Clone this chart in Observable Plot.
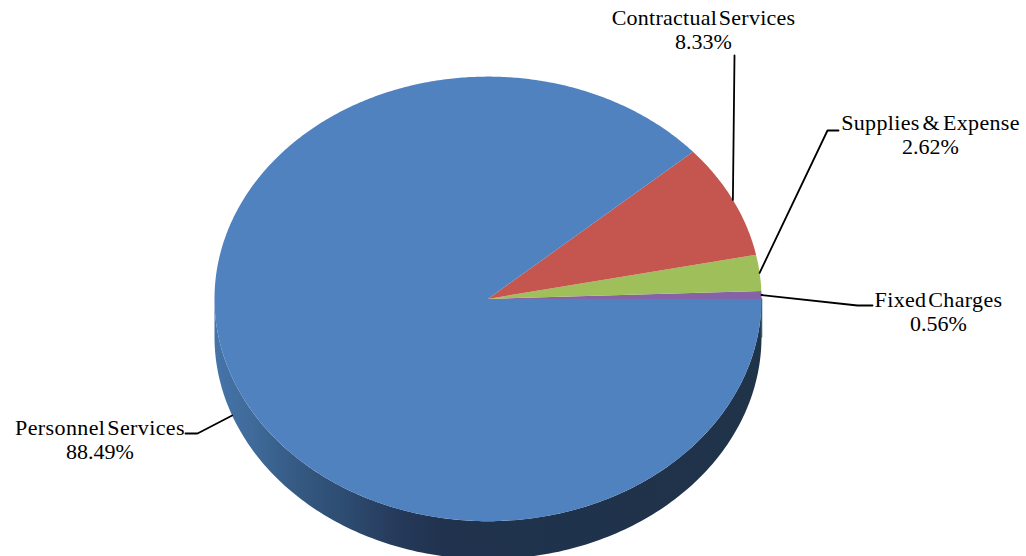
<!DOCTYPE html>
<html>
<head>
<meta charset="utf-8">
<style>
  html, body { margin: 0; padding: 0; background: #fff; }
  svg { display: block; }
</style>
<script src="https://cdn.jsdelivr.net/npm/d3@7"></script>
<script src="https://cdn.jsdelivr.net/npm/@observablehq/plot@0.6"></script>
</head>
<body>
<script>
// Budget shares, listed counter-clockwise from the pie's three o'clock position.
const categories = ["Fixed Charges", "Supplies & Expense", "Contractual Services", "Personnel Services"];
const shares = [0.56, 2.62, 8.33, 88.49];
const sliceColors = ["#8464a6", "#9fbf5b", "#c4564f", "#5082c0"];

// Page and tilted-pie geometry, in pixels.
const width = 1026, height = 556;
const pie = {cx: 487.5, cy: 298.4, rx: 273.5, ry: 222.3, depth: 38};

// Label centres, leader bends and the tracking of each name line.
const labelLayout = {
  "Fixed Charges":        {x: 938, y: 311, bend: [[857, 305], [872, 305]], word: -4, letter: 0.35},
  "Supplies & Expense":   {x: 930, y: 134, bend: [[827, 130], [838, 130]], word: -3, letter: 0.35},
  "Contractual Services": {x: 703, y: 29,  bend: [[734, 55]], word: -4, letter: 0.25},
  "Personnel Services":   {x: 99.5, y: 439, bend: [[197, 433], [185, 433]], word: -4, letter: 0.4, lowerRim: true}
};

const rim = (degrees, drop = 0) => {
  const a = degrees * Math.PI / 180;
  return {x: pie.cx + pie.rx * Math.cos(a), y: pie.cy - pie.ry * Math.sin(a) + drop};
};

// Turn the shares into angular extents and outline each slice as a polygon.
let running = 0;
const slices = categories.map((name, i) => {
  const start = running;
  running += shares[i] * 3.6;
  return {name, share: shares[i], start, end: running, mid: (start + running) / 2};
});

const sliceOutlines = slices.flatMap(({name, start, end}) => {
  const steps = Math.max(2, Math.ceil((end - start) * 2));
  const pts = [{name, x: pie.cx, y: pie.cy}];
  for (let k = 0; k <= steps; ++k) pts.push({name, ...rim(start + (end - start) * k / steps)});
  return pts;
});

// Visible wall of the disc: the front half of the rim and the same rim dropped by the depth.
const wall = [];
for (let d = 0; d <= 180; d += 1) wall.push(rim(-d));
for (let d = 180; d >= 0; d -= 1) wall.push(rim(-d, pie.depth));

// Short lit edge where the wall begins at three o'clock.
const wallEdge = [rim(0), rim(0, pie.depth)];

const leaders = slices.flatMap(({name, mid}) => {
  const layout = labelLayout[name];
  const anchor = rim(mid, layout.lowerRim ? pie.depth : 0);
  return [anchor, ...layout.bend.map(([x, y]) => ({x, y}))].map((p) => ({name, ...p}));
});

const labels = slices.map(({name, share}) => ({
  x: labelLayout[name].x,
  y: labelLayout[name].y,
  text: `${name}\n${share.toFixed(2)}%`
}));

// Horizontal shading of the wall, lit on the left and falling to dark navy at the front.
const wallShade = () => {
  const defs = d3.create("svg:defs");
  const gradient = defs.append("linearGradient")
    .attr("id", "wall-shade")
    .attr("gradientUnits", "userSpaceOnUse")
    .attr("x1", pie.cx - pie.rx).attr("x2", pie.cx + pie.rx)
    .attr("y1", 0).attr("y2", 0);
  for (const [at, color] of [
    [0, "#4674a9"], [0.07, "#3f6a9a"], [0.16, "#345880"],
    [0.25, "#2c4a6e"], [0.34, "#25395a"], [0.42, "#20324d"], [1, "#1f3349"]
  ]) gradient.append("stop").attr("offset", at).attr("stop-color", color);
  return defs.node();
};

// Tighten the gaps between words on the name lines once Plot has drawn them.
const trackNames = (index, scales, values, dimensions, context, next) => {
  const g = next(index, scales, values, dimensions, context);
  d3.select(g).selectAll("tspan").each(function () {
    const layout = labelLayout[this.textContent];
    if (layout) d3.select(this).attr("word-spacing", layout.word).attr("letter-spacing", layout.letter);
  });
  return g;
};

const chart = Plot.plot({
  width, height,
  margin: 0,
  x: {domain: [0, width], range: [0, width], axis: null},
  y: {domain: [0, height], range: [0, height], axis: null},
  color: {domain: categories, range: sliceColors},
  marks: [
    wallShade,
    Plot.line(wall, {x: "x", y: "y", fill: "url(#wall-shade)", stroke: "none"}),
    Plot.line(wallEdge, {x: "x", y: "y", stroke: "#2d6475", strokeWidth: 1.5}),
    Plot.line(sliceOutlines, {x: "x", y: "y", z: "name", fill: "name", stroke: "none"}),
    Plot.line(leaders, {x: "x", y: "y", z: "name", stroke: "#000", strokeWidth: 1.8, curve: "linear"}),
    Plot.text(labels, {
      x: "x", y: "y", text: "text",
      fontFamily: "Liberation Serif", fontSize: 22, lineHeight: 1.09, fill: "#000",
      render: trackNames
    })
  ]
});
document.body.append(chart);
</script>
</body>
</html>
